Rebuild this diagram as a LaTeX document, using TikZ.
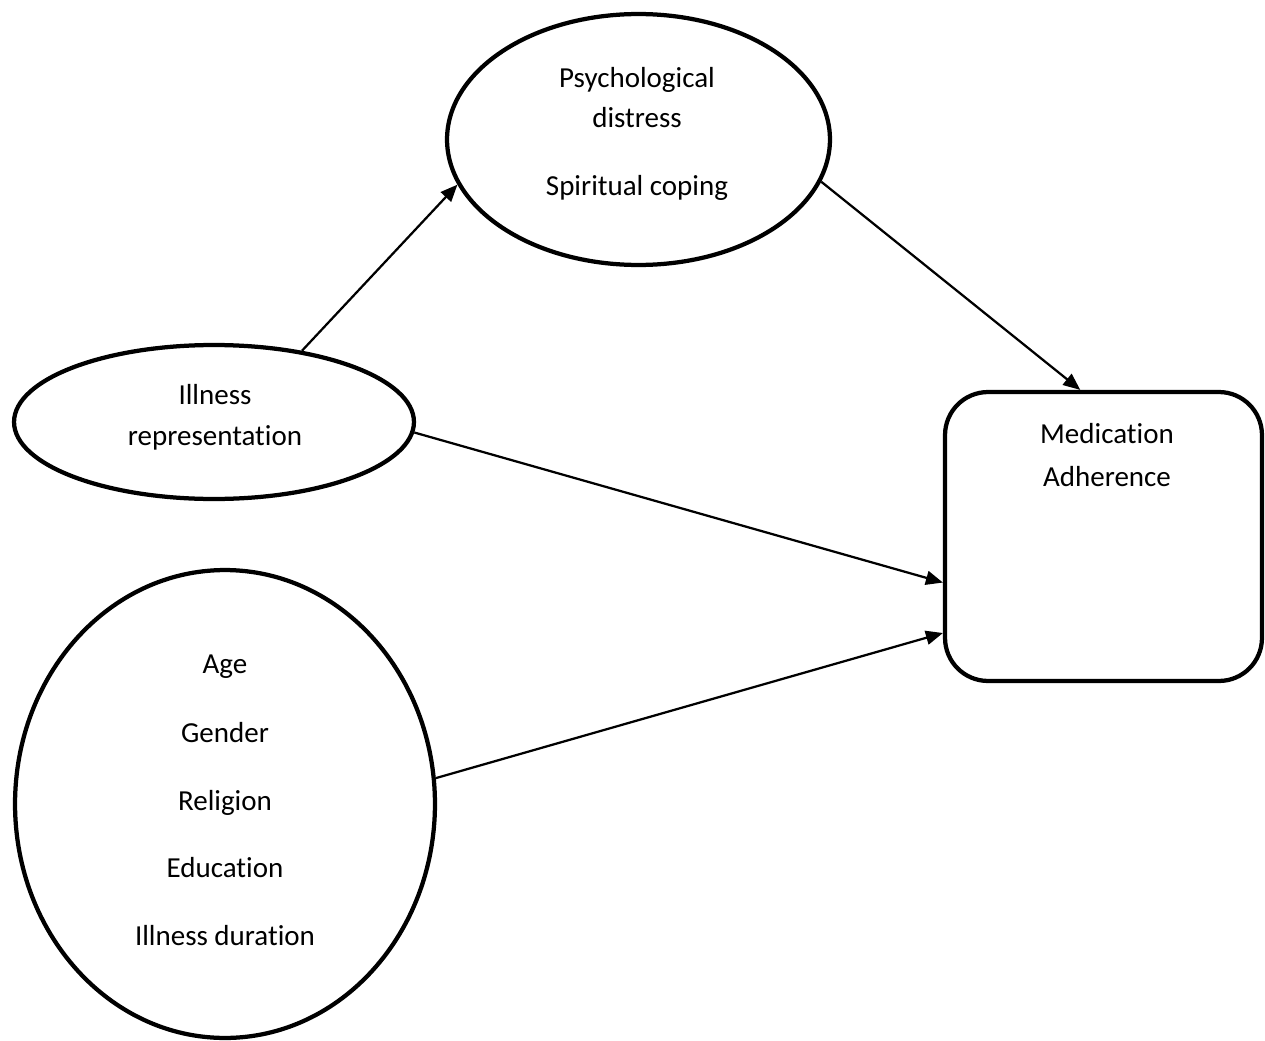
\documentclass[tikz,border=0pt]{standalone}
\usepackage{fontspec}
\setmainfont{Carlito}[Ligatures=NoCommon]
\usetikzlibrary{shapes.geometric,arrows.meta}
\begin{document}
\begin{tikzpicture}[x=0.02cm,y=-0.02cm,
  oval/.style={ellipse,draw=black,line width=0.085cm,inner sep=0pt},
  boxshape/.style={rectangle,draw=black,line width=0.085cm,rounded corners=0.86cm,inner sep=0pt},
  txt/.style={anchor=base,inner sep=0pt,font=\fontsize{16.5}{19}\selectfont},
  link/.style={line width=0.045cm,-{Triangle[length=0.34cm,width=0.28cm]}}]
\useasboundingbox (0,0) rectangle (1265,1041);
% shapes
\node[oval,minimum width=7.66cm,minimum height=5.02cm] (psy) at (638.5,139.5) {};
\node[oval,minimum width=8.0cm,minimum height=3.08cm] (ill) at (214,422) {};
\node[oval,minimum width=8.4cm,minimum height=9.36cm] (dem) at (225,804) {};
\node[boxshape,minimum width=6.34cm,minimum height=5.78cm] (med) at (1103.5,536.5) {};
% texts
\node[txt] (psyA) at (637,87) {Psychological};
\node[txt] (psyB) at (637,127) {distress};
\node[txt] (psyC) at (637,195) {Spiritual coping};
\node[txt] (illA) at (215,404) {Illness};
\node[txt] (illB) at (215,445) {representation};
\node[txt] (medA) at (1107,443) {Medication};
\node[txt] (medB) at (1107,486) {Adherence};
\node[txt] (demA) at (225,673) {Age};
\node[txt] (demB) at (225,742) {Gender};
\node[txt] (demC) at (225,810) {Religion};
\node[txt] (demD) at (225,877) {Education};
\node[txt] (demE) at (225,945) {Illness duration};
% connectors
\draw[link] (ill.39.5) -- (psy.194.5);
\draw[link] (psy.-13.6) -- (med.99);
\draw[link] (ill.-3.4) -- (med.196.6);
\draw[link] (dem.7) -- (med.211.2);
\end{tikzpicture}
\end{document}
